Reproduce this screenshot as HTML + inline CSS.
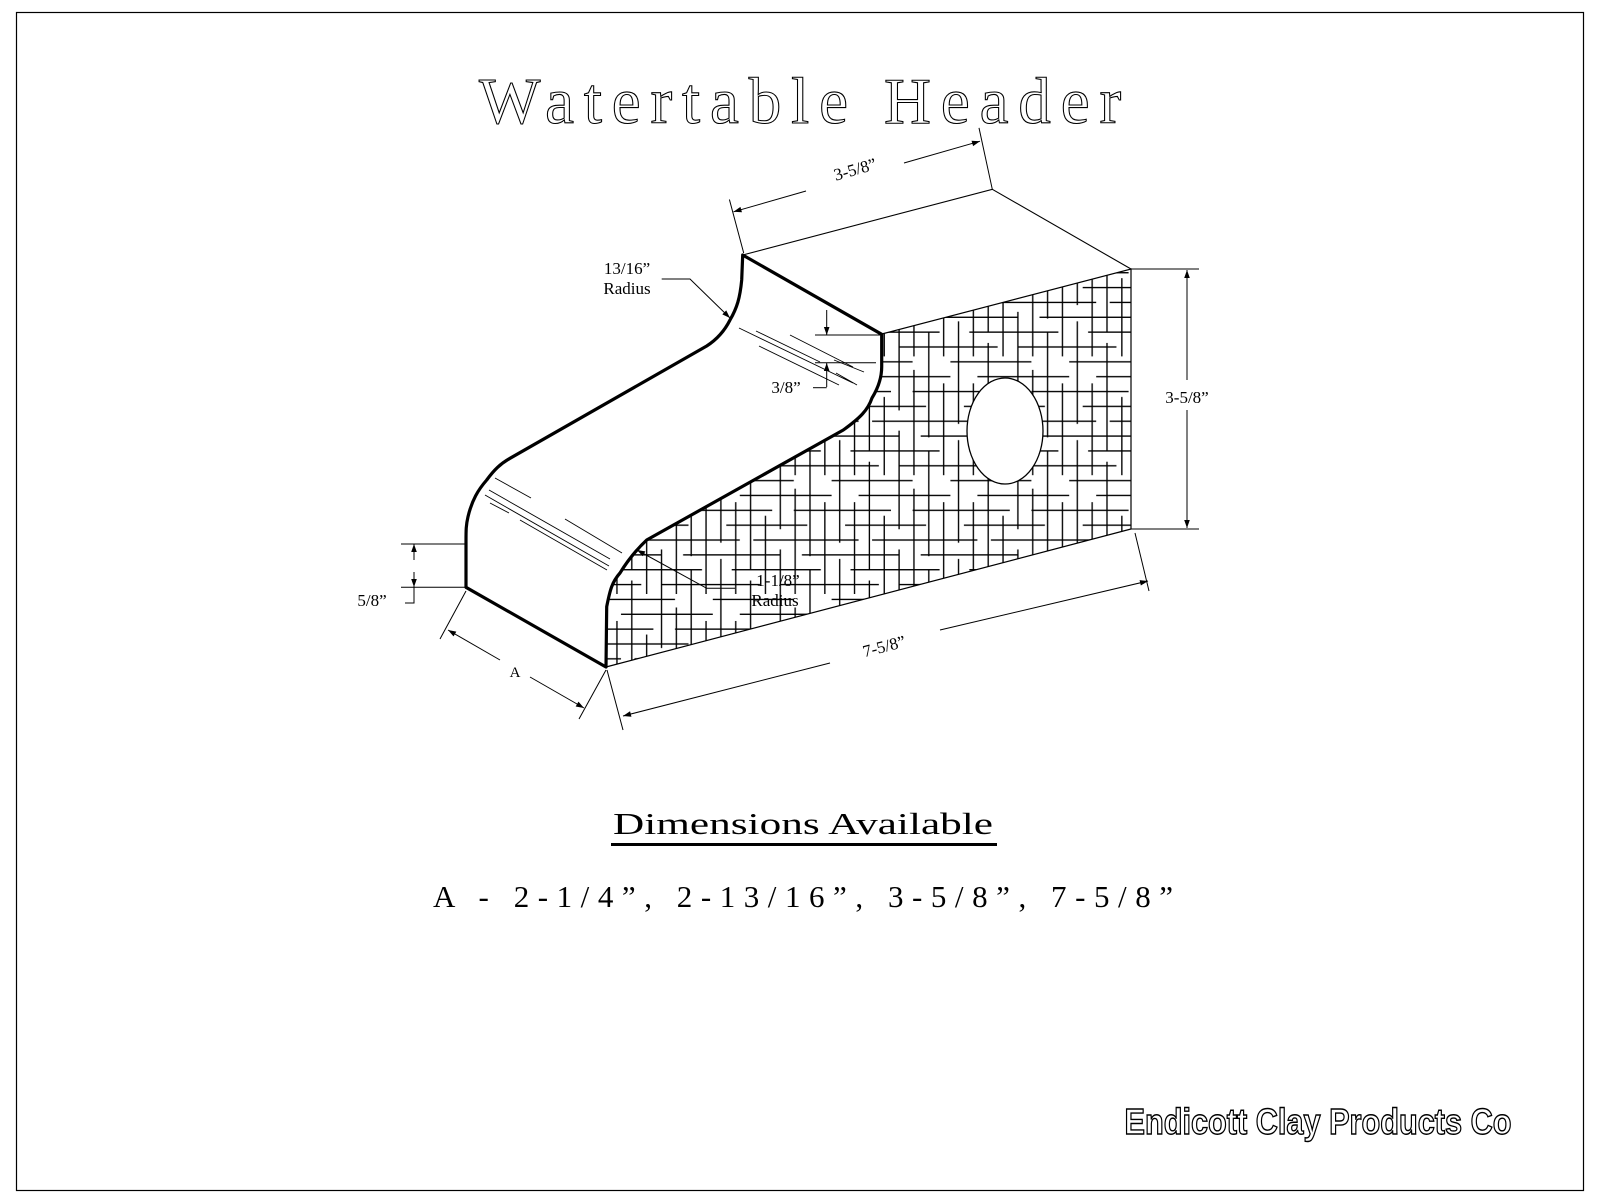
<!DOCTYPE html>
<html><head><meta charset="utf-8"><style>
html,body{margin:0;padding:0;background:#fff}
svg{display:block}
text{font-family:"Liberation Serif",serif}
</style></head><body>
<svg width="1600" height="1200" viewBox="0 0 1600 1200" xmlns="http://www.w3.org/2000/svg">
<defs>
<pattern id="hatch" x="0" y="0" width="88" height="88" patternUnits="userSpaceOnUse" patternTransform="scale(1.35)">
<g stroke="#000" stroke-width="1" fill="none">
<path d="M0 4H60M20 15H88M0 26H44M10 37H70M30 48H88M0 59H50M14 70H80M0 81H35M50 81H88M60 26H88M0 48H20M66 59H88"/>
<path d="M6 0V50M17 20V88M28 0V70M39 30V88M50 0V40M61 10V88M72 0V60M83 20V88M6 62V88M50 55V88M72 70V88M28 78V88"/>
</g>
</pattern>
<clipPath id="sideclip"><path d="M881.7,334 L1131,269 L1131,529 L606,667 L606.7,606.7 C610,590 612,582 620,573 C628,560 636,550 646.7,540 L843.3,430 C860,418 868,410 872,398 C880,385 881.7,375 881.7,366.7 Z"/></clipPath>
<marker id="ar" viewBox="0 0 10 10" refX="10" refY="5" markerWidth="10" markerHeight="8" orient="auto-start-reverse" markerUnits="userSpaceOnUse"><path d="M0,1.5 L10,5 L0,8.5 Z" fill="#000"/></marker>
</defs>
<rect x="16.5" y="12.5" width="1567" height="1178" fill="none" stroke="#000" stroke-width="1.2"/>

<text x="805" y="123" font-size="66" text-anchor="middle" fill="#fff" stroke="#000" stroke-width="1.1" textLength="652" lengthAdjust="spacingAndGlyphs" letter-spacing="10">Watertable Header</text>

<rect x="600" y="260" width="540" height="420" fill="url(#hatch)" clip-path="url(#sideclip)"/>
<path d="M881.7,334 L1131,269 L1131,529 L606,667" fill="none" stroke="#000" stroke-width="1.2"/>
<ellipse cx="1005" cy="431" rx="38" ry="53" fill="#fff" stroke="#000" stroke-width="1.3"/>

<path d="M742.7,255 L992.3,189.3 L1131,269" fill="none" stroke="#000" stroke-width="1.1"/>
<path d="M466,587.3 L466,541.7 C466,530 466,525 468,516.7 C472,500 478,490 486.7,480 C494,470 500,464 510,458.3 L706.7,346 C716,340 724,332 730,320 C737,308 740,298 741.7,280 L742.7,255 L881.7,334.3 L881.7,366.7 C881.7,375 880,385 872,398 C868,410 860,418 843.3,430 L646.7,540 C636,550 628,560 620,573 C612,582 610,590 606.7,606.7 L606,667 Z" fill="none" stroke="#000" stroke-width="3.2" stroke-linejoin="round"/>
<g stroke="#000" stroke-width="0.9">
<path d="M739,328 L853,383 M756,331 L820,362 M759,346 L839,385 M790,335 L853,367 M834,360 L864,372 M836,373 L857,385 M495,478 L531,498 M489,490 L610,559 M485,495 L609,566 M490,503 L509,513 M520,520 L607,570 M565,519 L622,553"/>
</g>

<text x="627" y="274" font-size="17" text-anchor="middle">13/16”</text>
<text x="627" y="294" font-size="17" text-anchor="middle">Radius</text>
<path d="M661.7,279 L690,279 L730,318" fill="none" stroke="#000" stroke-width="1" marker-end="url(#ar)"/>

<path d="M815,335 L880,335 M815,362.7 L876,362.7" stroke="#000" stroke-width="1"/>
<path d="M826.7,310 L826.7,335" stroke="#000" stroke-width="1" marker-end="url(#ar)"/>
<path d="M826.7,387 L826.7,363" stroke="#000" stroke-width="1" marker-end="url(#ar)"/>
<path d="M813,387.7 L826.7,387.7" stroke="#000" stroke-width="1"/>
<text x="786" y="393" font-size="17" text-anchor="middle">3/8”</text>

<path d="M735,588.3 L706.7,588.3 L637,550" fill="none" stroke="#000" stroke-width="1" marker-end="url(#ar)"/>
<text x="778" y="586" font-size="17" text-anchor="middle">1-1/8”</text>
<text x="775" y="606" font-size="17" text-anchor="middle">Radius</text>

<path d="M743.7,253 L729.4,199.5 M992.3,189.3 L979,127.9" stroke="#000" stroke-width="1"/>
<path d="M806,191 L733.5,211.8" stroke="#000" stroke-width="1" marker-end="url(#ar)"/>
<path d="M904,163 L980,141.2" stroke="#000" stroke-width="1" marker-end="url(#ar)"/>
<text x="855" y="175" font-size="17" text-anchor="middle" transform="rotate(-16 855 169)">3-5/8”</text>

<path d="M1131,269 L1199,269 M1131,529 L1199,529" stroke="#000" stroke-width="1"/>
<path d="M1187,380 L1187,270" stroke="#000" stroke-width="1" marker-end="url(#ar)"/>
<path d="M1187,410 L1187,528" stroke="#000" stroke-width="1" marker-end="url(#ar)"/>
<text x="1187" y="403" font-size="17" text-anchor="middle">3-5/8”</text>

<path d="M1135,533 L1149,591 M607,670 L623,730" stroke="#000" stroke-width="1"/>
<path d="M830,663 L623,716" stroke="#000" stroke-width="1" marker-end="url(#ar)"/>
<path d="M940,630 L1148,581" stroke="#000" stroke-width="1" marker-end="url(#ar)"/>
<text x="884" y="652" font-size="17" text-anchor="middle" transform="rotate(-14.5 884 646)">7-5/8”</text>

<path d="M466,591 L440,639 M606,670 L579,719" stroke="#000" stroke-width="1"/>
<path d="M500,660 L448,630" stroke="#000" stroke-width="1" marker-end="url(#ar)"/>
<path d="M530,677 L584,708" stroke="#000" stroke-width="1" marker-end="url(#ar)"/>
<text x="515" y="677" font-size="15" text-anchor="middle">A</text>

<path d="M401,544 L465,544 M401,587.3 L465,587.3" stroke="#000" stroke-width="1"/>
<path d="M414,560 L414,544" stroke="#000" stroke-width="1" marker-end="url(#ar)"/>
<path d="M414,572 L414,587" stroke="#000" stroke-width="1" marker-end="url(#ar)"/>
<path d="M414,587.3 L414,603 L405,603" fill="none" stroke="#000" stroke-width="1"/>
<text x="372" y="606" font-size="17" text-anchor="middle">5/8”</text>

<text x="803" y="834" font-size="31" text-anchor="middle" textLength="380" lengthAdjust="spacingAndGlyphs">Dimensions Available</text>
<rect x="611" y="843" width="386" height="3" fill="#000"/>
<text x="803" y="907" font-size="31" text-anchor="middle" textLength="740" lengthAdjust="spacing">A - 2-1/4”, 2-13/16”, 3-5/8”, 7-5/8”</text>

<text x="1318" y="1134" font-size="36" font-weight="bold" text-anchor="middle" fill="#fff" stroke="#000" stroke-width="1.4" textLength="387" lengthAdjust="spacingAndGlyphs" style="font-family:'Liberation Sans',sans-serif">Endicott Clay Products Co</text>
</svg>
</body></html>
